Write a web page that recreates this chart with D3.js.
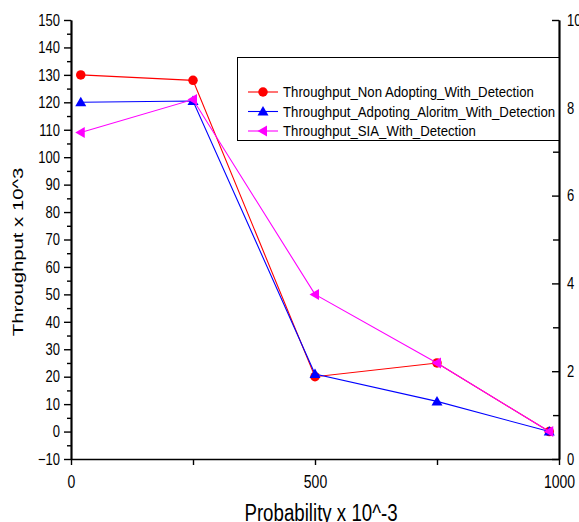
<!DOCTYPE html>
<html><head><meta charset="utf-8">
<script src="https://cdn.jsdelivr.net/npm/d3@7"></script>
<style>
html,body{margin:0;padding:0;background:#fff;}
svg{display:block;font-family:"Liberation Sans",Arial,sans-serif;}
</style></head>
<body>
<svg id="chart" width="579" height="522"></svg>
<script>
const xValues = [20, 250, 500, 750, 980];
const nonAdopting = [130, 128, 20, 25, 0];
const adopting = [120, 120.5, 21, 11, 0];
const sia = [109, 121, 50, 25, 0];
const seriesNames = ["Throughput_Non Adopting_With_Detection", "Throughput_Adpoting_Aloritm_With_Detection", "Throughput_SIA_With_Detection"];
const leftTicks = d3.range(-10, 151, 10);
const leftMinor = d3.range(-5, 150, 10);
const rightTicks = [0, 2, 4, 6, 8, 10];
const rightMinor = [1, 3, 5, 7, 9];
const xTicks = [0, 250, 500, 750, 1000];
const xLabels = [0, 500, 1000];

const svg = d3.select("#chart");
const L = 71, R = 559, T = 20, B = 459;
const x = d3.scaleLinear().domain([0, 1000]).range([L, R]);
const y = d3.scaleLinear().domain([-10, 150]).range([B, T]);
const y2 = d3.scaleLinear().domain([0, 10]).range([B, T]);

const tickFont = 13, tickSY = 1.27;

function styleAxis(g) {
  g.selectAll("path.domain").attr("stroke", "#000").attr("stroke-width", 1.7);
  g.selectAll(".tick line").attr("stroke", "#000").attr("stroke-width", 1.4);
  g.selectAll("text").attr("font-family", '"Liberation Sans",Arial,sans-serif').attr("font-size", tickFont).attr("fill", "#000");
}

// left minor
svg.append("g").attr("transform", `translate(${L},0)`)
  .call(d3.axisLeft(y).tickValues(leftMinor).tickSize(4).tickSizeOuter(0).tickFormat(""))
  .call(styleAxis);
// left major
const gl = svg.append("g").attr("transform", `translate(${L},0)`)
  .call(d3.axisLeft(y).tickValues(leftTicks).tickSize(7).tickPadding(4).tickSizeOuter(0))
  .call(styleAxis);
gl.selectAll("text").attr("transform", `scale(1,${tickSY})`);

// right minor
svg.append("g").attr("transform", `translate(${R},0)`)
  .call(d3.axisRight(y2).tickValues(rightMinor).tickSize(-6).tickSizeOuter(0).tickFormat(""))
  .call(styleAxis);
const gr = svg.append("g").attr("transform", `translate(${R},0)`)
  .call(d3.axisRight(y2).tickValues(rightTicks).tickSize(-7).tickPadding(8).tickSizeOuter(0))
  .call(styleAxis);
gr.selectAll("text").attr("transform", `scale(1,${tickSY})`);

// bottom
const gb = svg.append("g").attr("transform", `translate(0,${B})`)
  .call(d3.axisBottom(x).tickValues(xTicks).tickSize(6).tickSizeOuter(0)
    .tickFormat(d => xLabels.includes(d) ? d : ""))
  .call(styleAxis);
gb.selectAll("text").attr("font-size", 14).attr("y", 29 / tickSY).attr("dy", 0).attr("transform", `scale(1,${tickSY})`);

// lines
const series = [
  {vals: nonAdopting, color: "#ff0000", shape: "circle"},
  {vals: adopting, color: "#0000ff", shape: "up"},
  {vals: sia, color: "#ff00ff", shape: "left"}
];
function marker(g, shape, color, cx, cy, s) {
  if (shape === "circle") {
    g.append("circle").attr("cx", cx).attr("cy", cy).attr("r", s * 0.95).attr("fill", color);
  } else if (shape === "up") {
    g.append("path").attr("d", `M${cx},${cy - s * 1.1}L${cx + s * 1.1},${cy + s * 0.8}L${cx - s * 1.1},${cy + s * 0.8}Z`).attr("fill", color);
  } else {
    g.append("path").attr("d", `M${cx - s * 1.1},${cy}L${cx + s * 0.8},${cy - s * 1.1}L${cx + s * 0.8},${cy + s * 1.1}Z`).attr("fill", color);
  }
}
const line = d3.line().x((d, i) => x(xValues[i])).y(d => y(d));
series.forEach(s => {
  const g = svg.append("g");
  g.append("path").datum(s.vals).attr("d", line).attr("fill", "none").attr("stroke", s.color).attr("stroke-width", 1.1);
  s.vals.forEach((v, i) => marker(g, s.shape, s.color, x(xValues[i]), y(v), 5));
});

// legend
const lg = svg.append("g");
lg.append("rect").attr("x", 237.5).attr("y", 57.5).attr("width", 321.5).attr("height", 83)
  .attr("fill", "#fff").attr("stroke", "#000").attr("stroke-width", 1);
const rowsY = [92, 111.5, 131];
series.forEach((s, i) => {
  const cy = rowsY[i];
  lg.append("line").attr("x1", 248).attr("x2", 278).attr("y1", cy).attr("y2", cy).attr("stroke", s.color).attr("stroke-width", 1.1);
  marker(lg, s.shape, s.color, 263, cy, 5);
  lg.append("text").attr("transform", `translate(283,${cy + 5.3}) scale(1,1.13)`)
    .attr("font-size", 13.2).attr("fill", "#000").text(seriesNames[i]);
});

// axis titles
svg.append("text").attr("transform", `translate(321,521) scale(1,1.27)`)
  .attr("text-anchor", "middle").attr("font-size", 18.7).attr("fill", "#000").text("Probability x 10^-3");
svg.append("text").attr("transform", `translate(23.3,252) rotate(-90) scale(1.4,1)`)
  .attr("text-anchor", "middle").attr("font-size", 14.5).attr("fill", "#000").text("Throughput x 10^3");
</script>
</body></html>
